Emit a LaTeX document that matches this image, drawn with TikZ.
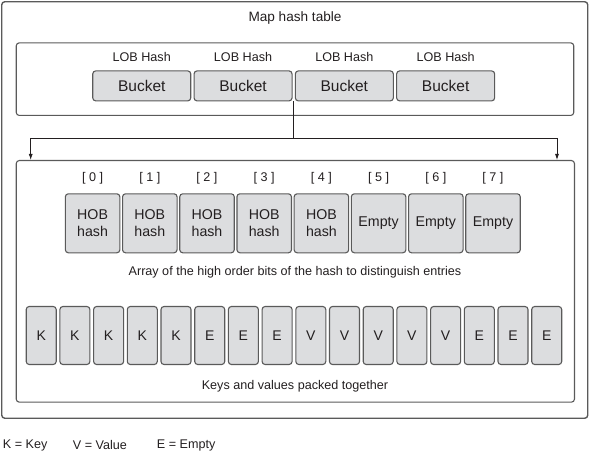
\documentclass[tikz,border=0pt]{standalone}
\usepackage{fontspec}
\setmainfont{Liberation Sans}
\usetikzlibrary{arrows.meta,positioning,calc}

\definecolor{framegray}{HTML}{5A5A5A}
\definecolor{cellgray}{HTML}{DCDDDF}
\definecolor{inkgray}{HTML}{231F20}

\begin{document}
\begin{tikzpicture}[x=1pt, y=-1pt, every node/.style={text=inkgray},
  frame/.style={draw=framegray, rounded corners=3pt, line width=1.1pt, inner sep=0pt},
  cell/.style={draw=framegray, fill=cellgray, rounded corners=3pt, line width=1.1pt, inner sep=0pt, align=center},
  lbl/.style={font=\fontsize{12.6}{15}\selectfont},
  arrowtip/.style={draw=inkgray, line width=0.8pt, -{Latex[length=6pt,width=4pt]}}]
\useasboundingbox (0,0) rectangle (590,452);
% frames
\node[frame, line width=1.4pt, minimum width=586pt, minimum height=416.5pt] (mapframe) at (294.75,210) {};
\node[frame, minimum width=557.5pt, minimum height=72.6pt] (bucketframe) at (295,79.15) {};
\node[frame, minimum width=558.2pt, minimum height=241.6pt] (arrayframe) at (295.35,281.35) {};
\node[font=\fontsize{13.6}{16}\selectfont] (title) at (295,18.3) {Map hash table};
% buckets
\foreach \i in {0,...,3} {
  \node[cell, minimum width=98pt, minimum height=30pt, font=\fontsize{15.5}{18}\selectfont] (bkt\i) at ({141.75+101.3*\i},85.9) {Bucket};
  \node[lbl] (lob\i) at ({141.75+101.3*\i},56.7) {LOB Hash};
}
% HOB array
\foreach \i/\t in {0/HOB\\hash,1/HOB\\hash,2/HOB\\hash,3/HOB\\hash,4/HOB\\hash,5/Empty,6/Empty,7/Empty} {
  \node[cell, minimum width=54.5pt, minimum height=59pt, font=\fontsize{14.2}{17.3}\selectfont] (hob\i) at ({92.6+57.2*\i},223.3) {\t};
  \node[lbl] (idx\i) at ({92.6+57.2*\i},178.3) {[ \i\ ]};
}
\node[lbl] (hobnote) at (295,272.7) {Array of the high order bits of the hash to distinguish entries};
% keys and values
\foreach \i/\t in {0/K,1/K,2/K,3/K,4/K,5/E,6/E,7/E,8/V,9/V,10/V,11/V,12/V,13/E,14/E,15/E} {
  \node[cell, minimum width=30pt, minimum height=58pt, font=\fontsize{14}{17}\selectfont] (kv\i) at ({41.2+33.7*\i},335.5) {\t};
}
\node[lbl] (kvnote) at (295,386) {Keys and values packed together};
% fork to the array frame
\coordinate (fork) at ($(bkt1.south east)!0.5!(bkt2.south west)+(0,36.6)$);
\coordinate (dropL) at ([xshift=15pt]arrayframe.north west);
\coordinate (dropR) at ([xshift=-18pt]arrayframe.north east);
\draw[draw=inkgray, line width=0.8pt] ($(bkt1.south east)!0.5!(bkt2.south west)$) -- (fork);
\draw[arrowtip] (fork) -| (dropL);
\draw[arrowtip] (fork) -| (dropR);
% legend
\node[lbl, anchor=west, inner sep=0pt] (keyleg) at (2.7,445) {K = Key};
\node[lbl, anchor=west, inner sep=0pt] (valleg) at (72.7,445) {V = Value};
\node[lbl, anchor=west, inner sep=0pt] (empleg) at (156.7,445) {E = Empty};
\end{tikzpicture}
\end{document}
